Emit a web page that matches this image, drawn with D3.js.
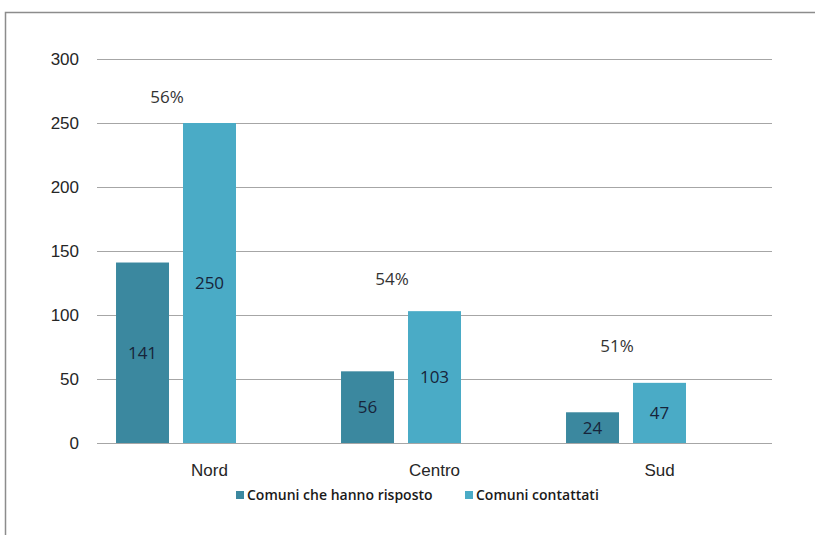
<!DOCTYPE html>
<html>
<head>
<meta charset="utf-8">
<script src="https://cdn.jsdelivr.net/npm/d3@7"></script>
<style>
  body { margin: 0; background: #fff; }
  svg { display: block; font-family: "Open Sans", "Noto Sans", sans-serif; }
</style>
</head>
<body>
<div id="chart"></div>
<script>
const categories = ["Nord", "Centro", "Sud"];
const series = ["Comuni che hanno risposto", "Comuni contattati"];
const risposto = [141, 56, 24];
const contattati = [250, 103, 47];
const percentLabels = ["56%", "54%", "51%"];
const percentLevel = [270, 128, 76]; // height (in axis units) where the % note sits
const yTicks = [0, 50, 100, 150, 200, 250, 300];

const colors = ["#3b889f", "#4aabc6"];

const W = 815, H = 535;
const margin = { top: 59, right: 43, bottom: 92, left: 97 };
const width = W - margin.left - margin.right;
const height = H - margin.top - margin.bottom;

const svg = d3.select("#chart").append("svg")
  .attr("width", W)
  .attr("height", H);

// outer frame (cropped on the right and bottom)
svg.append("rect")
  .attr("x", 5.5).attr("y", 12.5)
  .attr("width", W + 20).attr("height", H + 20)
  .attr("fill", "none")
  .attr("stroke", "#8c8c8c")
  .attr("stroke-width", 1.5);

const g = svg.append("g")
  .attr("transform", `translate(${margin.left},${margin.top})`);

const x = d3.scaleBand()
  .domain(categories)
  .range([0, width]);

// three slots per group: the third one stays empty, as in the original
const xSub = d3.scaleBand()
  .domain([0, 1, 2])
  .range([0, x.bandwidth()])
  .paddingInner(0.209)
  .paddingOuter(0.284);

const y = d3.scaleLinear()
  .domain([0, 300])
  .range([height, 0]);

// gridlines
g.append("g")
  .selectAll("line")
  .data(yTicks)
  .enter().append("line")
  .attr("x1", 0).attr("x2", width)
  .attr("y1", d => Math.round(y(d)) + 0.5)
  .attr("y2", d => Math.round(y(d)) + 0.5)
  .attr("stroke", "#a6a6a6")
  .attr("stroke-width", 1);

const yAxis = d3.axisLeft(y).tickValues(yTicks).tickSize(0).tickPadding(18);
g.append("g")
  .call(yAxis)
  .call(s => s.select(".domain").remove())
  .selectAll("text")
  .attr("fill", "#262626")
  .style("font-size", "17px");

const xAxis = d3.axisBottom(x).tickSize(0).tickPadding(21);
g.append("g")
  .attr("transform", `translate(0,${height})`)
  .call(xAxis)
  .call(s => s.select(".domain").remove())
  .selectAll("text")
  .attr("fill", "#262626")
  .style("font-size", "17px");

const rows = categories.map((c, i) => ({ cat: c, values: [risposto[i], contattati[i]], pct: percentLabels[i], lvl: percentLevel[i] }));

const groups = g.selectAll(".grp")
  .data(rows)
  .enter().append("g")
  .attr("class", "grp")
  .attr("transform", d => `translate(${x(d.cat)},0)`);

const bars = groups.selectAll(".bar")
  .data(d => d.values.map((v, k) => ({ v, k })))
  .enter();

bars.append("rect")
  .attr("class", "bar")
  .attr("x", d => xSub(d.k))
  .attr("y", d => y(d.v))
  .attr("width", xSub.bandwidth())
  .attr("height", d => y(0) - y(d.v))
  .attr("fill", d => colors[d.k]);

bars.append("text")
  .attr("x", d => xSub(d.k) + xSub.bandwidth() / 2)
  .attr("y", d => (y(d.v) + y(0)) / 2)
  .attr("dy", "0.35em")
  .attr("text-anchor", "middle")
  .attr("fill", "#17243a")
  .style("font-size", "17px")
  .text(d => d.v);

groups.append("text")
  .attr("x", xSub(0) + xSub.bandwidth() - 2)
  .attr("y", d => y(d.lvl))
  .attr("dy", "0.35em")
  .attr("text-anchor", "middle")
  .attr("fill", "#333")
  .style("font-size", "17px")
  .text(d => d.pct);

// legend
const legend = svg.append("g")
  .attr("transform", "translate(236,495)");
const legendX = [0, 229];
const items = legend.selectAll("g")
  .data(series)
  .enter().append("g")
  .attr("transform", (d, i) => `translate(${legendX[i]},0)`);
items.append("rect")
  .attr("x", 0).attr("y", -4)
  .attr("width", 8).attr("height", 8)
  .attr("fill", (d, i) => colors[i]);
items.append("text")
  .attr("x", 11)
  .attr("dy", "0.35em")
  .attr("fill", "#1a1a1a")
  .style("font-size", "14px")
  .style("font-weight", 600)
  .text(d => d);
</script>
</body>
</html>
